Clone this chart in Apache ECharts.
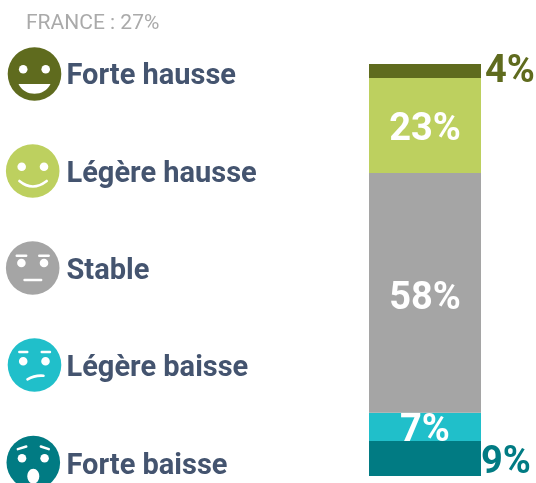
<!DOCTYPE html>
<html>
<head>
<meta charset="utf-8">
<title>France</title>
<script src="https://cdn.jsdelivr.net/npm/echarts@6/dist/echarts.min.js"></script>
<style>
  html, body { margin: 0; padding: 0; background: #fff; overflow: hidden; }
  #chart { width: 536px; height: 483px; }
</style>
</head>
<body>
<div id="chart"></div>
<script>
const titleText = 'FRANCE : 27%'
const categories = ['Forte hausse', 'Légère hausse', 'Stable', 'Légère baisse', 'Forte baisse']
// bar heights, the printed labels are rounded differently
const values = [3.4, 23, 58.1, 6.8, 8.5]
const valueLabels = ['4%', '23%', '58%', '7%', '9%']
const colors = ['#5f6b1e', '#bdd05f', '#a5a5a5', '#20bfca', '#017b83']

const fontFamily = 'Roboto'
const textColor = '#44546f'
const faceCenters = [[34.5, 74], [32.7, 171], [32.7, 268], [34.5, 365], [33.3, 462.5]]
const labelY = [76.5, 174.5, 271.5, 368.5, 466.5]
const faceRadius = 26.8

// white strokes
const line = (shape, width) => ({
  type: 'line',
  shape,
  style: { stroke: '#fff', lineWidth: width || 2.4, lineCap: 'round' },
})
const eye = (cx, cy) => ({ type: 'circle', shape: { cx, cy, r: 4.3 }, style: { fill: '#fff' } })

const faceParts = [
  [
    eye(-11.3, -4.7),
    eye(11.2, -4.7),
    { type: 'bezierCurve', shape: { x1: -16, y1: 10, x2: 16, y2: 10, cpx1: -10, cpy1: 23, cpx2: 10, cpy2: 23 }, style: { fill: '#fff', stroke: null } },
  ],
  [
    eye(-11, -4.3),
    eye(11.3, -4.3),
    { type: 'bezierCurve', shape: { x1: -13.3, y1: 10, x2: 14, y2: 10, cpx1: 0, cpy1: 21 }, style: { stroke: '#fff', fill: null, lineWidth: 2.6, lineCap: 'round' } },
  ],
  [
    line({ x1: -16, y1: -12.3, x2: -6.5, y2: -12.3 }),
    line({ x1: 6.5, y1: -12.3, x2: 16, y2: -12.3 }),
    eye(-11.3, -5),
    eye(11.3, -5),
    line({ x1: -8.2, y1: 12, x2: 8.5, y2: 12 }),
  ],
  [
    line({ x1: -15.2, y1: -13, x2: -7.2, y2: -13 }),
    line({ x1: 7.2, y1: -13, x2: 15.5, y2: -13 }),
    eye(-11.3, -3.7),
    eye(11, -3.7),
    { type: 'bezierCurve', shape: { x1: -7, y1: 14.3, x2: 9, y2: 10.7, cpx1: 0, cpy1: 10 }, style: { stroke: '#fff', fill: null, lineWidth: 2.6, lineCap: 'round' } },
  ],
  [
    line({ x1: -15.5, y1: -13.3, x2: -7, y2: -16 }),
    line({ x1: 7.5, y1: -16, x2: 15.5, y2: -13.3 }),
    eye(-11.3, -4.3),
    eye(11.3, -4.3),
    { type: 'ellipse', shape: { cx: 0, cy: 13.7, rx: 6, ry: 7.5 }, style: { fill: '#fff' } },
  ],
]

const graphics = [
  {
    type: 'text',
    left: 26,
    top: 13,
    style: { text: titleText, fill: '#aaaaaa', font: '400 21px ' + fontFamily },
  },
]
categories.forEach((name, i) => {
  graphics.push({
    type: 'group',
    x: faceCenters[i][0],
    y: faceCenters[i][1],
    children: [
      { type: 'circle', shape: { cx: 0, cy: 0, r: faceRadius }, style: { fill: colors[i] } },
      ...faceParts[i],
    ],
  })
  graphics.push({
    type: 'text',
    x: 66.5,
    y: labelY[i],
    style: {
      text: name,
      fill: textColor,
      font: '700 29px ' + fontFamily,
      verticalAlign: 'middle',
    },
  })
})

// small segments print their value outside, in the segment colour
const outside = { 0: [0, 1], 4: [-4, 5] }
const insideOffset = { 1: [0, 5], 2: [0, 7], 3: [0, 5] }
const series = categories.map((name, i) => ({
  name,
  type: 'bar',
  stack: 'total',
  barWidth: '100%',
  // later (lower) segments sit above, the dark one cuts off the foot of "7%"
  z: i === 4 ? 5 : 2,
  itemStyle: { color: colors[i] },
  label: {
    show: true,
    position: outside[i] ? 'right' : 'inside',
    distance: 4,
    offset: outside[i] || insideOffset[i],
    formatter: () => valueLabels[i],
    color: outside[i] ? colors[i] : '#fff',
    fontFamily,
    fontWeight: 700,
    fontSize: 38,
  },
  data: [values[i]],
})).reverse()

const chart = echarts.init(document.getElementById('chart'), null, { renderer: 'canvas' })
chart.setOption({
  animation: false,
  grid: { left: 369, top: 64, width: 112, height: 412 },
  xAxis: { type: 'category', data: ['France'], show: false },
  yAxis: { type: 'value', min: 0, max: values.reduce((a, b) => a + b, 0), show: false },
  graphic: graphics,
  series,
})
</script>
</body>
</html>
